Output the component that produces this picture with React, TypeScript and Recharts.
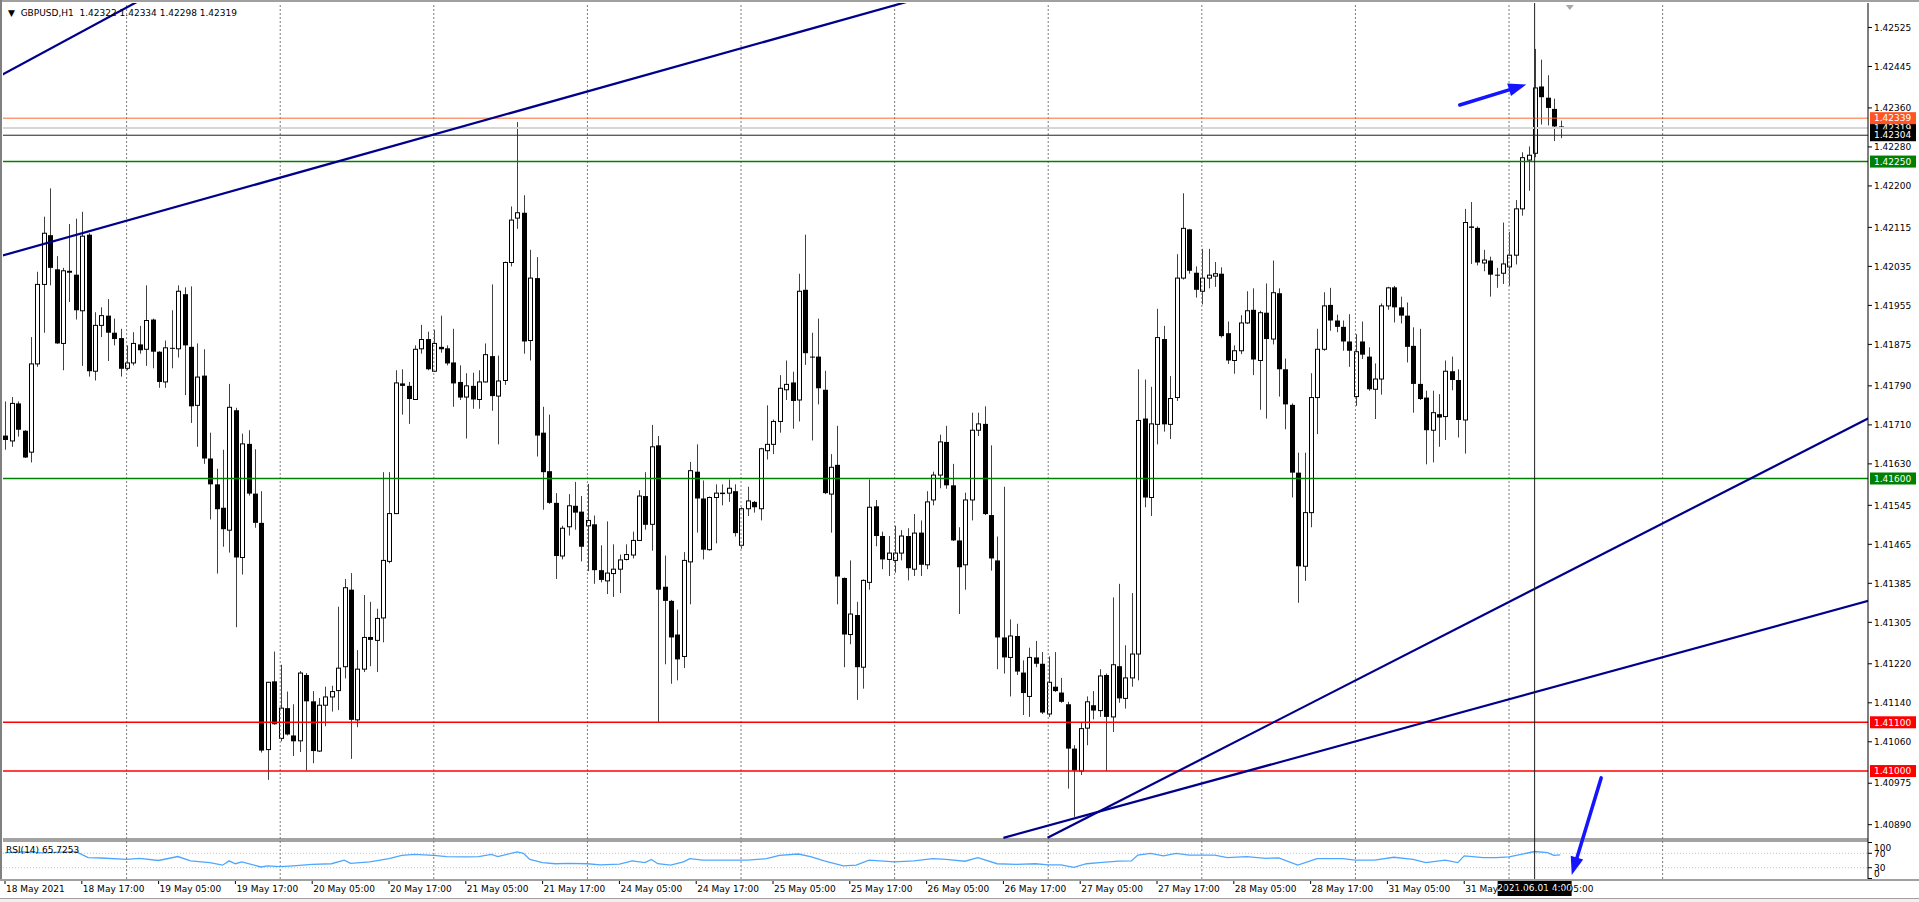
import React from "react";
import {
  ComposedChart,
  Bar,
  Line,
  XAxis,
  YAxis,
  ReferenceLine,
  ReferenceArea,
  ReferenceDot,
} from "recharts";

// GBPUSD H1, one value per bar, bar 0 = 18 May 05:00
const OPEN = [
  1.41688, 1.41677, 1.41754, 1.41698, 1.41654, 1.41835, 1.41998, 1.42099, 1.42029, 1.41877,
  1.42026, 1.42018, 1.41944, 1.421, 1.4182, 1.41914, 1.41934, 1.41899, 1.41888, 1.41826,
  1.41837, 1.41875, 1.41865, 1.41926, 1.4186, 1.41798, 1.41868, 1.41866, 1.41978, 1.4187,
  1.4175, 1.41811, 1.41641, 1.41588, 1.4154, 1.41494, 1.4174, 1.41438, 1.41671, 1.41569,
  1.41509, 1.41044, 1.41184, 1.41067, 1.41129, 1.41073, 1.41062, 1.41197, 1.41143, 1.41041,
  1.41135, 1.41152, 1.41165, 1.41214, 1.41372, 1.41105, 1.41209, 1.41275, 1.41268, 1.41314,
  1.4143, 1.41528, 1.41795, 1.4179, 1.41762, 1.41866, 1.41886, 1.4182, 1.4187, 1.41867,
  1.41838, 1.41798, 1.41767, 1.4179, 1.41762, 1.41798, 1.41851, 1.41769, 1.41801, 1.42043,
  1.42134, 1.42145, 1.41883, 1.42011, 1.41694, 1.41615, 1.4155, 1.41441, 1.41501, 1.41544,
  1.41532, 1.41503, 1.41506, 1.41412, 1.4139, 1.41405, 1.41414, 1.41434, 1.41443, 1.41473,
  1.41564, 1.41506, 1.41668, 1.41378, 1.41349, 1.4128, 1.41235, 1.41429, 1.41614, 1.41559,
  1.41454, 1.41561, 1.41571, 1.4157, 1.41574, 1.41463, 1.41538, 1.41552, 1.41538, 1.41657,
  1.4167, 1.41717, 1.41782, 1.41797, 1.41761, 1.41987, 1.4185, 1.4185, 1.41782, 1.41568,
  1.41628, 1.41396, 1.4128, 1.4132, 1.41213, 1.41387, 1.41543, 1.41482, 1.41434, 1.41432,
  1.41447, 1.41482, 1.41414, 1.41489, 1.41423, 1.41556, 1.41607, 1.41675, 1.41586, 1.41473,
  1.41423, 1.41556, 1.41699, 1.41712, 1.41525, 1.41432, 1.41274, 1.41233, 1.41277, 1.41202,
  1.41153, 1.41233, 1.4122, 1.41117, 1.41173, 1.41161, 1.41137, 1.41046, 1.41, 1.41088,
  1.41135, 1.41124, 1.41197, 1.41111, 1.41215, 1.41149, 1.41191, 1.4124, 1.41723, 1.41561,
  1.41711, 1.41886, 1.41711, 1.41766, 1.42011, 1.42111, 1.42022, 1.41984, 1.42011, 1.42015,
  1.4202, 1.41898, 1.41842, 1.41862, 1.41919, 1.41946, 1.41842, 1.4194, 1.41886, 1.4198,
  1.41824, 1.41751, 1.41612, 1.4142, 1.4153, 1.41766, 1.41865, 1.41956, 1.41924, 1.41911,
  1.41881, 1.41768, 1.41881, 1.4185, 1.41783, 1.41804, 1.41954, 1.41992, 1.41951, 1.41934,
  1.41872, 1.41794, 1.41766, 1.41699, 1.41732, 1.41727, 1.4182, 1.41802, 1.4172, 1.42117,
  1.42114, 1.42042, 1.42047, 1.42018, 1.42021, 1.42034, 1.42058, 1.42153, 1.42253, 1.42267,
  1.42404, 1.42381, 1.42358, 1.42322,
];

const HIGH = [
  1.41758, 1.41767, 1.41758, 1.41699, 1.4189, 1.42024, 1.42137, 1.42195, 1.42056, 1.42032,
  1.42122, 1.42133, 1.42147, 1.42103, 1.41941, 1.41951, 1.41968, 1.41928, 1.41907, 1.41873,
  1.419, 1.41913, 1.41996, 1.41928, 1.41861, 1.41883, 1.41945, 1.41996, 1.41992, 1.41994,
  1.41877, 1.41865, 1.41694, 1.4162, 1.41659, 1.41794, 1.41745, 1.41692, 1.41699, 1.4166,
  1.41574, 1.41183, 1.41245, 1.41218, 1.41163, 1.41137, 1.41205, 1.41201, 1.41164, 1.4115,
  1.41173, 1.41175, 1.41337, 1.41394, 1.41406, 1.41248, 1.41361, 1.41347, 1.41333, 1.41613,
  1.41613, 1.41822, 1.41824, 1.41798, 1.41873, 1.41915, 1.41901, 1.41905, 1.41934, 1.41873,
  1.41907, 1.41832, 1.41816, 1.41817, 1.41822, 1.41877, 1.41998, 1.41852, 1.42045, 1.42158,
  1.42331, 1.42181, 1.42069, 1.42054, 1.41747, 1.41731, 1.4157, 1.41503, 1.41568, 1.41593,
  1.41564, 1.41589, 1.41524, 1.41463, 1.41512, 1.41465, 1.41444, 1.41465, 1.41491, 1.41576,
  1.41613, 1.4171, 1.41687, 1.41442, 1.41351, 1.41331, 1.41449, 1.41634, 1.4167, 1.41596,
  1.41563, 1.41588, 1.41588, 1.41598, 1.41588, 1.41541, 1.41583, 1.41554, 1.41663, 1.4175,
  1.41721, 1.41812, 1.41842, 1.41819, 1.4202, 1.421, 1.41899, 1.41928, 1.41821, 1.4165,
  1.41708, 1.41397, 1.41432, 1.41347, 1.41393, 1.41598, 1.41556, 1.41491, 1.41482, 1.41503,
  1.41494, 1.41498, 1.41527, 1.41514, 1.41574, 1.41614, 1.4169, 1.41708, 1.4163, 1.415,
  1.41571, 1.41735, 1.41735, 1.41748, 1.41668, 1.41481, 1.41583, 1.41311, 1.41302, 1.41227,
  1.41253, 1.41267, 1.41244, 1.41235, 1.41244, 1.41191, 1.41142, 1.41053, 1.41099, 1.41153,
  1.41164, 1.41209, 1.412, 1.41356, 1.41384, 1.41258, 1.41365, 1.41824, 1.41803, 1.41788,
  1.41948, 1.41913, 1.4181, 1.4206, 1.42185, 1.42112, 1.42035, 1.42071, 1.42071, 1.42044,
  1.42033, 1.41922, 1.41873, 1.41935, 1.41984, 1.4199, 1.41944, 1.42, 1.42047, 1.4199,
  1.41846, 1.41754, 1.41653, 1.41653, 1.41816, 1.41907, 1.41982, 1.41991, 1.41936, 1.41924,
  1.41937, 1.41896, 1.41922, 1.41869, 1.41836, 1.41959, 1.41993, 1.41995, 1.41973, 1.41961,
  1.4191, 1.41907, 1.4178, 1.4178, 1.41773, 1.41842, 1.4185, 1.41824, 1.42153, 1.42167,
  1.42117, 1.42069, 1.42055, 1.42032, 1.42125, 1.42106, 1.42171, 1.42269, 1.42281, 1.42481,
  1.42459, 1.42427, 1.42379, 1.42334,
];

const LOW = [
  1.41659, 1.41665, 1.41686, 1.41642, 1.41633, 1.41829, 1.41899, 1.41996, 1.41876, 1.41822,
  1.41962, 1.41926, 1.41831, 1.41809, 1.41801, 1.4189, 1.41841, 1.41873, 1.41809, 1.41822,
  1.41832, 1.41856, 1.41831, 1.41826, 1.41786, 1.41786, 1.41826, 1.41848, 1.41771, 1.41714,
  1.41665, 1.4163, 1.41516, 1.41405, 1.4146, 1.41448, 1.41295, 1.41403, 1.41565, 1.41499,
  1.41038, 1.40982, 1.41095, 1.41061, 1.41073, 1.41031, 1.41039, 1.41001, 1.41016, 1.41039,
  1.41092, 1.41122, 1.41125, 1.4119, 1.41025, 1.4109, 1.41203, 1.41215, 1.41203, 1.41264,
  1.41426, 1.41527, 1.41731, 1.41712, 1.41761, 1.41856, 1.41822, 1.41819, 1.41858, 1.41832,
  1.41747, 1.41761, 1.41682, 1.41743, 1.41743, 1.41797, 1.41739, 1.4167, 1.41792, 1.42035,
  1.42112, 1.41856, 1.41842, 1.41645, 1.41536, 1.41548, 1.41394, 1.41434, 1.41483, 1.41495,
  1.4143, 1.4141, 1.41384, 1.41387, 1.41363, 1.41357, 1.41365, 1.41432, 1.41436, 1.41472,
  1.41495, 1.41452, 1.411, 1.41219, 1.41179, 1.41186, 1.41211, 1.41342, 1.41489, 1.41434,
  1.41452, 1.41467, 1.41545, 1.41552, 1.41481, 1.41456, 1.41523, 1.4153, 1.41514, 1.41639,
  1.4165, 1.41694, 1.41761, 1.41702, 1.41717, 1.41833, 1.41678, 1.41752, 1.41568, 1.41489,
  1.41342, 1.41213, 1.4126, 1.41146, 1.41169, 1.41372, 1.41461, 1.41414, 1.414, 1.41407,
  1.41432, 1.41391, 1.414, 1.414, 1.41414, 1.41545, 1.4158, 1.41579, 1.41472, 1.41322,
  1.41372, 1.41514, 1.41687, 1.41525, 1.41411, 1.41209, 1.412, 1.41153, 1.41197, 1.41115,
  1.41111, 1.41213, 1.41117, 1.41111, 1.41162, 1.4114, 1.40964, 1.40906, 1.40992, 1.41053,
  1.41106, 1.41111, 1.41, 1.4108, 1.4114, 1.41128, 1.41173, 1.41186, 1.41541, 1.41523,
  1.4167, 1.41696, 1.41681, 1.41759, 1.42008, 1.4202, 1.41971, 1.41957, 1.4199, 1.41993,
  1.41889, 1.41835, 1.41815, 1.41855, 1.41917, 1.41812, 1.41741, 1.41723, 1.41875, 1.41768,
  1.41701, 1.41561, 1.41345, 1.4139, 1.415, 1.41691, 1.41862, 1.41903, 1.419, 1.41862,
  1.41829, 1.41749, 1.41845, 1.4178, 1.41722, 1.41772, 1.41946, 1.4192, 1.41918, 1.41838,
  1.41735, 1.41761, 1.41629, 1.41633, 1.41665, 1.41679, 1.41781, 1.41684, 1.41651, 1.4204,
  1.42037, 1.42025, 1.41973, 1.41991, 1.41999, 1.41995, 1.42039, 1.42139, 1.4219, 1.42259,
  1.42326, 1.42324, 1.42292, 1.42298,
];

const CLOSE = [
  1.41679, 1.41754, 1.417, 1.41643, 1.41835, 1.41998, 1.42103, 1.42032, 1.41877, 1.42026,
  1.42022, 1.41945, 1.42097, 1.4182, 1.41914, 1.41934, 1.41899, 1.41886, 1.41825, 1.41837,
  1.41877, 1.41863, 1.41924, 1.4186, 1.41798, 1.41868, 1.41866, 1.41984, 1.41873, 1.41748,
  1.41808, 1.41641, 1.41588, 1.41537, 1.41496, 1.41746, 1.41438, 1.41671, 1.41569, 1.41509,
  1.41042, 1.41182, 1.41096, 1.41129, 1.41075, 1.41061, 1.41201, 1.41143, 1.41041, 1.41135,
  1.41152, 1.41163, 1.41211, 1.41376, 1.41105, 1.41209, 1.41274, 1.41269, 1.41313, 1.41432,
  1.41528, 1.41796, 1.4179, 1.41763, 1.41865, 1.41885, 1.41824, 1.41877, 1.41865, 1.41836,
  1.41795, 1.41766, 1.4179, 1.41762, 1.41798, 1.41854, 1.41769, 1.418, 1.42043, 1.4213,
  1.42145, 1.41881, 1.42011, 1.41688, 1.41613, 1.4155, 1.41441, 1.41498, 1.41544, 1.4153,
  1.4146, 1.41514, 1.41412, 1.41392, 1.41406, 1.41414, 1.41433, 1.41444, 1.41473, 1.41564,
  1.41505, 1.41665, 1.41372, 1.41349, 1.41274, 1.41229, 1.41432, 1.41616, 1.41559, 1.41454,
  1.41561, 1.4157, 1.41568, 1.4158, 1.41488, 1.41538, 1.41554, 1.41541, 1.41661, 1.4167,
  1.41717, 1.41785, 1.41793, 1.41759, 1.41984, 1.41857, 1.41848, 1.41785, 1.4157, 1.41623,
  1.41399, 1.4128, 1.41322, 1.41213, 1.41391, 1.41541, 1.41482, 1.41434, 1.41447, 1.41447,
  1.41482, 1.41416, 1.41488, 1.41423, 1.41552, 1.41607, 1.41675, 1.41586, 1.41473, 1.41418,
  1.41556, 1.41699, 1.41712, 1.41527, 1.41436, 1.41274, 1.41233, 1.41277, 1.41204, 1.4116,
  1.41233, 1.4122, 1.4112, 1.41182, 1.41164, 1.41142, 1.41046, 1.41001, 1.41087, 1.41142,
  1.41124, 1.41195, 1.41111, 1.41218, 1.41149, 1.41191, 1.4124, 1.41719, 1.41561, 1.41712,
  1.41889, 1.41711, 1.41764, 1.42011, 1.42113, 1.42026, 1.41987, 1.42011, 1.42017, 1.4202,
  1.41892, 1.41842, 1.41862, 1.41919, 1.41944, 1.41844, 1.4194, 1.41886, 1.41981, 1.41824,
  1.41752, 1.41612, 1.4142, 1.4153, 1.41766, 1.41865, 1.41954, 1.41924, 1.41911, 1.41881,
  1.41862, 1.4186, 1.41854, 1.41783, 1.41804, 1.41954, 1.41991, 1.41951, 1.41934, 1.4187,
  1.41794, 1.41763, 1.41699, 1.41735, 1.41725, 1.4182, 1.41802, 1.4172, 1.42125, 1.42114,
  1.42043, 1.42048, 1.42018, 1.42016, 1.4204, 1.42058, 1.42153, 1.42258, 1.42263, 1.42401,
  1.42382, 1.4236, 1.42322, 1.42319,
];

// RSI(14) read at the turning points of the line
const RSI_AT = [
  0, 3, 6, 9, 11, 13, 15, 19, 21, 24, 27, 29, 32, 34, 35, 36, 37, 40, 41, 43, 45, 48, 51, 53, 54,
  57, 60, 62, 64, 67, 69, 72, 74, 76, 77, 80, 81, 82, 84, 86, 88, 91, 93, 96, 98, 100, 101, 102,
  104, 106, 107, 109, 112, 116, 119, 121, 124, 126, 128, 131, 133, 135, 139, 142, 145, 147, 150,
  152, 155, 158, 161, 163, 165, 167, 169, 171, 174, 176, 177, 179, 181, 183, 185, 189, 191, 194,
  197, 199, 202, 205, 209, 211, 214, 217, 220, 222, 225, 227, 228, 231, 233, 235, 239, 241, 242,
  243,
];
const RSI_VAL = [
  72, 74, 71, 73, 75, 58, 57, 53, 56, 50, 61, 49, 44, 37, 49, 41, 46, 32, 35, 33, 35, 39, 41, 51,
  42, 46, 55, 64, 67, 64, 61, 60, 61, 67, 61, 74, 70, 53, 44, 41, 42, 41, 38, 40, 49, 44, 53, 41,
  37, 46, 55, 51, 51, 51, 55, 64, 68, 60, 49, 35, 37, 51, 46, 49, 55, 53, 48, 58, 41, 39, 41, 38,
  38, 31, 41, 44, 48, 49, 65, 70, 63, 70, 65, 65, 58, 61, 56, 57, 37, 55, 55, 51, 51, 59, 53, 44,
  51, 44, 63, 58, 58, 60, 75, 72, 64, 65.7253,
];

const TICK_AT = [0, 12, 24, 36, 48, 60, 72, 84, 96, 108, 120, 132, 144, 156, 168, 180, 192, 204, 216, 228, 240];
const TICK_LABELS = [
  "18 May 2021", "18 May 17:00", "19 May 05:00", "19 May 17:00", "20 May 05:00", "20 May 17:00",
  "21 May 05:00", "21 May 17:00", "24 May 05:00", "24 May 17:00", "25 May 05:00", "25 May 17:00",
  "26 May 05:00", "26 May 17:00", "27 May 05:00", "27 May 17:00", "28 May 05:00", "28 May 17:00",
  "31 May 05:00", "31 May 17:00", "1 Jun 05:00",
];
// midnight of each day
const DAY_START = [19, 43, 67, 91, 115, 139, 163, 187, 211, 235, 259];

const PRICE_TICKS = [
  1.42525, 1.42445, 1.4236, 1.4228, 1.422, 1.42115, 1.42035, 1.41955, 1.41875, 1.4179, 1.4171,
  1.4163, 1.41545, 1.41465, 1.41385, 1.41305, 1.4122, 1.4114, 1.4106, 1.40975, 1.4089,
];
const RSI_LEVELS = [70, 30];
const RSI_SCALE = [100, 70, 30, 0];

const GREEN_LEVELS = [1.4225, 1.416];
const RED_LEVELS = [1.411, 1.41];
const ALERT_LEVEL = 1.42339;
const BID_LEVEL = 1.42319;
const BLACK_LEVEL = 1.42304;

// trend lines as [bar, price] anchors
const TRENDS = [
  [[-1, 1.42424], [30, 1.42644]],
  [[-1, 1.42055], [150, 1.42611]],
  [[162.9, 1.40863], [300, 1.41783]],
  [[156, 1.40863], [300, 1.41381]],
];
const ARROWS = [
  [[227.3, 1.42366], [237.7, 1.42408]],
  [[249.4, 1.40986], [244.8, 1.40787]],
];
const MARK_BAR = 239;
const MARK_TEXT = "2021.06.01 4:00";
const SHIFT_BAR = 244.5;

const rows = OPEN.map((o, i) => ({
  i,
  open: o,
  high: HIGH[i],
  low: LOW[i],
  close: CLOSE[i],
  range: [LOW[i], HIGH[i]],
  rsi: null as number | null,
}));
RSI_AT.forEach((at, k) => {
  rows[at].rsi = RSI_VAL[k];
});

const FONT = "'DejaVu Sans', Tahoma, sans-serif";
const PRICE_DOMAIN = [1.407786, 1.425752];
const RSI_DOMAIN = [-1.39, 2431.9];
const X_DOMAIN = [-0.3125, 291.09];

const Candle = (props: any) => {
  const { x, y, width, height, payload } = props;
  if (!payload || height == null) return null;
  const { open, close, high, low } = payload;
  const k = high > low ? height / (high - low) : 0;
  const yo = y + (high - open) * k;
  const yc = y + (high - close) * k;
  const top = Math.min(yo, yc);
  const h = Math.max(Math.abs(yc - yo), 1);
  const cx = Math.round(x + width / 2) + 0.5;
  const up = close >= open;
  return (
    <g>
      <line x1={cx} x2={cx} y1={y} y2={y + height} stroke="#404040" strokeWidth={1} />
      {up ? (
        <rect x={cx - 2} y={top} width={4} height={h} fill="#fff" stroke="#000" strokeWidth={1} />
      ) : (
        <rect x={cx - 2.5} y={top} width={5} height={h} fill="#000" />
      )}
    </g>
  );
};

const TimeTick = (props: any) => {
  const { x, y, payload } = props;
  const k = TICK_AT.indexOf(payload.value);
  return (
    <g>
      <line x1={x} x2={x} y1={y + 1} y2={y + 5} stroke="#000" />
      <text x={x + 1} y={y + 13} fontSize={9} fontFamily={FONT} fill="#000">
        {TICK_LABELS[k]}
      </text>
    </g>
  );
};

const priceTag = (text: string, bg: string) => (p: any) => {
  const vb = p.viewBox;
  const x0 = vb.x + vb.width + 2;
  return (
    <g>
      <rect x={x0} y={vb.y - 6} width={46} height={12} fill={bg} />
      <text x={x0 + 4} y={vb.y} dy="0.36em" fontSize={9} fontFamily={FONT} fill="#fff">
        {text}
      </text>
    </g>
  );
};

const rsiTag = (text: string, shift: number) => (p: any) => {
  const vb = p.viewBox;
  const x0 = vb.x + vb.width;
  return (
    <g>
      <line x1={x0} x2={x0 + 4} y1={vb.y} y2={vb.y} stroke="#000" />
      <text x={x0 + 6} y={vb.y + shift} dy="0.36em" fontSize={9} fontFamily={FONT} fill="#000">
        {text}
      </text>
    </g>
  );
};

const timeTag = (p: any) => {
  const vb = p.viewBox;
  const y0 = vb.y + vb.height + 1;
  return (
    <g>
      <rect x={vb.x - 37} y={y0} width={74} height={16} fill="#000" />
      <text x={vb.x} y={y0 + 8} dy="0.36em" textAnchor="middle" fontSize={9} fontFamily={FONT} fill="#fff">
        {MARK_TEXT}
      </text>
    </g>
  );
};

const arrowShape = (p: any) => {
  const { x1, y1, x2, y2 } = p;
  const dx = x2 - x1;
  const dy = y2 - y1;
  const len = Math.hypot(dx, dy) || 1;
  const ux = dx / len;
  const uy = dy / len;
  const bx = x2 - ux * 18;
  const by = y2 - uy * 18;
  return (
    <g>
      <line x1={x1} y1={y1} x2={bx} y2={by} stroke="#1414ff" strokeWidth={3.5} strokeLinecap="round" />
      <polygon
        points={`${x2},${y2} ${bx - uy * 6.5},${by + ux * 6.5} ${bx + uy * 6.5},${by - ux * 6.5}`}
        fill="#1414ff"
      />
    </g>
  );
};

const shiftMark = (p: any) => (
  <polygon points={`${p.cx - 4},${p.cy + 2} ${p.cx + 4},${p.cy + 2} ${p.cx},${p.cy + 7}`} fill="#a8a8a8" />
);

export default function App() {
  return (
    <div
      style={{
        position: "absolute",
        left: 0,
        top: 0,
        width: 1919,
        height: 902,
        background: "#fff",
        overflow: "hidden",
      }}
    >
      <ComposedChart
        width={1919}
        height={902}
        data={rows}
        margin={{ top: 3, right: 0, bottom: 0, left: 3 }}
      >
        <XAxis
          xAxisId="t"
          dataKey="i"
          type="number"
          domain={X_DOMAIN}
          allowDataOverflow
          ticks={TICK_AT}
          interval={0}
          height={23}
          axisLine={false}
          tickLine={false}
          tickSize={0}
          tickMargin={0}
          tick={<TimeTick />}
        />
        <YAxis
          yAxisId="p"
          orientation="right"
          type="number"
          domain={PRICE_DOMAIN}
          allowDataOverflow
          ticks={PRICE_TICKS}
          interval={0}
          width={51}
          tickSize={4}
          tickMargin={2}
          tickFormatter={(v: number) => v.toFixed(5)}
          tick={{ fontSize: 9, fontFamily: FONT, fill: "#000" }}
          tickLine={{ stroke: "#000" }}
          axisLine={{ stroke: "#000" }}
        />
        <YAxis yAxisId="r" hide type="number" domain={RSI_DOMAIN} allowDataOverflow />

        {DAY_START.map((d) => (
          <ReferenceLine
            key={"d" + d}
            xAxisId="t"
            yAxisId="p"
            x={d}
            stroke="#7a7a7a"
            strokeDasharray="2 2"
          />
        ))}
        {RSI_LEVELS.map((v) => (
          <ReferenceLine
            key={"rl" + v}
            xAxisId="t"
            yAxisId="r"
            y={v}
            stroke="#c4c4c4"
            strokeDasharray="1 2"
          />
        ))}

        <Bar
          xAxisId="t"
          yAxisId="p"
          dataKey="range"
          barSize={5}
          shape={<Candle />}
          isAnimationActive={false}
        />
        <Line
          xAxisId="t"
          yAxisId="r"
          dataKey="rsi"
          type="linear"
          stroke="#4da6ff"
          strokeWidth={1.3}
          dot={false}
          activeDot={false}
          connectNulls
          isAnimationActive={false}
        />

        <ReferenceLine xAxisId="t" yAxisId="p" y={BID_LEVEL} stroke="#d6d6d6" strokeWidth={2} label={priceTag(BID_LEVEL.toFixed(5), "#000")} />
        <ReferenceLine xAxisId="t" yAxisId="p" y={BLACK_LEVEL} stroke="#202020" strokeWidth={1} label={priceTag(BLACK_LEVEL.toFixed(5), "#000")} />
        <ReferenceLine xAxisId="t" yAxisId="p" y={ALERT_LEVEL} stroke="#ff6a33" strokeWidth={1} label={priceTag(ALERT_LEVEL.toFixed(5), "#ff5522")} />
        {GREEN_LEVELS.map((v) => (
          <ReferenceLine key={"g" + v} xAxisId="t" yAxisId="p" y={v} stroke="#008000" strokeWidth={1.6} label={priceTag(v.toFixed(5), "#008000")} />
        ))}
        {RED_LEVELS.map((v) => (
          <ReferenceLine key={"r" + v} xAxisId="t" yAxisId="p" y={v} stroke="#ff0000" strokeWidth={1.6} label={priceTag(v.toFixed(5), "#ff0000")} />
        ))}

        {TRENDS.map((seg, k) => (
          <ReferenceLine
            key={"tr" + k}
            xAxisId="t"
            yAxisId="p"
            segment={[
              { x: seg[0][0], y: seg[0][1] },
              { x: seg[1][0], y: seg[1][1] },
            ]}
            ifOverflow="hidden"
            stroke="#00008b"
            strokeWidth={2.2}
          />
        ))}

        <ReferenceArea xAxisId="t" yAxisId="r" y1={101.4} y2={112.5} fill="#a3a3a3" fillOpacity={1} stroke="none" ifOverflow="visible" />

        <ReferenceLine xAxisId="t" yAxisId="p" x={MARK_BAR} stroke="#202020" strokeWidth={1} label={timeTag} />

        {RSI_SCALE.map((v, k) => (
          <ReferenceLine
            key={"rs" + v}
            xAxisId="t"
            yAxisId="r"
            y={v}
            stroke="none"
            label={rsiTag(String(v), k === 0 ? 5.5 : k === 3 ? -5 : 0)}
          />
        ))}

        {ARROWS.map((seg, k) => (
          <ReferenceLine
            key={"ar" + k}
            xAxisId="t"
            yAxisId="p"
            segment={[
              { x: seg[0][0], y: seg[0][1] },
              { x: seg[1][0], y: seg[1][1] },
            ]}
            ifOverflow="visible"
            shape={arrowShape}
          />
        ))}
        <ReferenceDot xAxisId="t" yAxisId="p" x={SHIFT_BAR} y={PRICE_DOMAIN[1]} r={4} ifOverflow="visible" shape={shiftMark} />
      </ComposedChart>

      <div style={{ position: "absolute", left: 0, top: 0, width: 1919, height: 2, background: "#a0a0a0" }} />
      <div style={{ position: "absolute", left: 0, top: 0, width: 2, height: 881, background: "#808080" }} />
      <div style={{ position: "absolute", left: 0, top: 879, width: 1919, height: 2, background: "#a0a0a0" }} />
      <div style={{ position: "absolute", left: 0, top: 898, width: 1919, height: 4, background: "#f0f0f0", borderTop: "1px solid #a0a0a0" }} />

      <div
        style={{
          position: "absolute",
          left: 8,
          top: 7,
          fontFamily: FONT,
          fontSize: 9,
          lineHeight: "12px",
          color: "#000",
          whiteSpace: "pre",
        }}
      >
        {"\u25BC  GBPUSD,H1  1.42322 1.42334 1.42298 1.42319"}
      </div>
      <div
        style={{
          position: "absolute",
          left: 6,
          top: 844,
          fontFamily: FONT,
          fontSize: 9,
          lineHeight: "12px",
          color: "#000",
          whiteSpace: "pre",
        }}
      >
        RSI(14) 65.7253
      </div>
    </div>
  );
}
